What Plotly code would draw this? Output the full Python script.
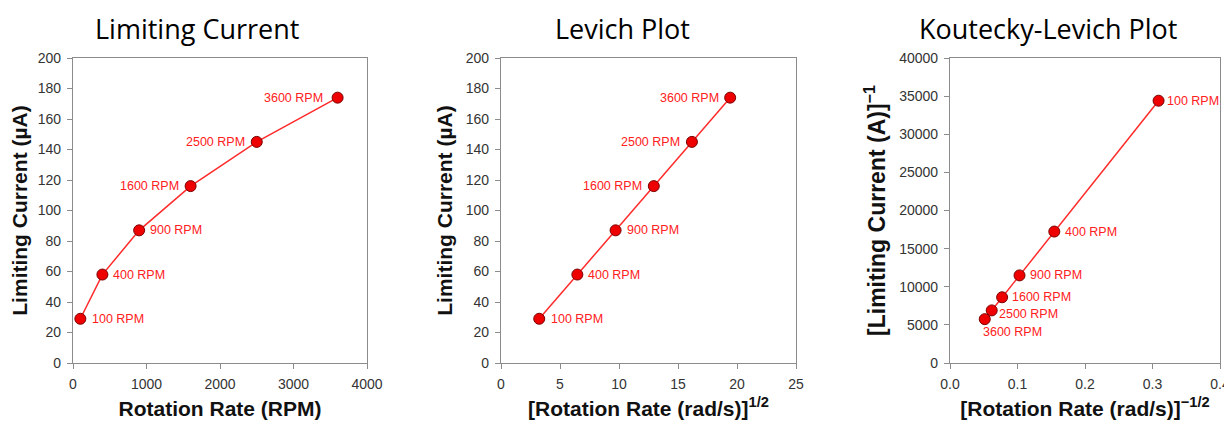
import plotly.graph_objects as go

# ---- data ----
rpm = [100, 400, 900, 1600, 2500, 3600]
labels = ["100 RPM", "400 RPM", "900 RPM", "1600 RPM", "2500 RPM", "3600 RPM"]
current_uA = [29, 58, 87, 116, 145, 174]
sqrt_omega = [3.24, 6.47, 9.71, 12.95, 16.18, 19.42]
inv_sqrt_omega = [0.309, 0.1545, 0.103, 0.0772, 0.0618, 0.0515]
inv_current = [34400, 17240, 11490, 8620, 6900, 5750]

titles = ["Limiting Current", "Levich Plot", "Koutecky-Levich Plot"]

# page is 1232x423; the html body adds an 8px margin, so the figure is smaller
OFF = 8
W, H = 1232 - OFF, 423 - OFF
RED = "#ff2a2a"
FONT = "Liberation Sans, Arial"

def px_x(a, b):
    return [(a - OFF) / W, (b - OFF) / W]

def px_y(top, bottom):
    return [1 - (bottom - OFF) / H, 1 - (top - OFF) / H]

fig = go.Figure()

panels = [
    dict(x=rpm, y=current_uA, xd=px_x(73, 367), xr=[0, 4000], xdt=1000, xfmt="",
         yr=[0, 200], ydt=20, xt="<b>Rotation Rate (RPM)</b>",
         yt="<b>Limiting Current (µA)</b>", tcx=197, ysz=21,
         lab=[("l", 10, 0), ("l", 9, 0), ("l", 9, 0), ("r", -10, 0), ("r", -10, 0), ("r", -13, 0)]),
    dict(x=sqrt_omega, y=current_uA, xd=px_x(501, 796), xr=[0, 25], xdt=5, xfmt="",
         yr=[0, 200], ydt=20, xt="<b>[Rotation Rate (rad/s)]<sup>1/2</sup></b>",
         yt="<b>Limiting Current (µA)</b>", tcx=622, ysz=21,
         lab=[("l", 10, 0), ("l", 9, 0), ("l", 9, 0), ("r", -10, 0), ("r", -10, 0), ("r", -9, 0)]),
    dict(x=inv_sqrt_omega, y=inv_current, xd=px_x(950, 1220), xr=[0, 0.4], xdt=0.1, xfmt=".1f",
         yr=[0, 40000], ydt=5000, xt="<b>[Rotation Rate (rad/s)]<sup>−1/2</sup></b>",
         yt="<b>[Limiting Current (A)]<sup>−1</sup></b>", tcx=1048, ysz=23,
         lab=[("l", 6, 0), ("l", 9, 0), ("l", 8, 0), ("l", 8, 0), ("l", 5, -4), ("l", -4, -13)]),
]

yd = px_y(58, 363)
annotations = []
for i, p in enumerate(panels):
    n = "" if i == 0 else str(i + 1)
    xa, ya = "x" + n, "y" + n
    fig.add_trace(go.Scatter(
        x=p["x"], y=p["y"], mode="lines+markers", xaxis=xa, yaxis=ya,
        line=dict(color=RED, width=1.5),
        marker=dict(size=11, color="#ee0000", line=dict(color="#7a0000", width=1)),
        showlegend=False, hoverinfo="skip"))
    common = dict(showline=True, linecolor="#8c8c8c", linewidth=1.2, mirror=True,
                  showgrid=False, zeroline=False, ticks="outside", ticklen=5,
                  tickcolor="#8c8c8c", automargin=False,
                  tickfont=dict(family=FONT, size=14, color="#333333"))
    fig.update_layout(**{
        "xaxis" + n: dict(domain=p["xd"], range=p["xr"], dtick=p["xdt"], tick0=0,
                          tickformat=p["xfmt"], anchor=ya, ticklabelstandoff=3,
                          title=dict(text=p["xt"], standoff=10,
                                     font=dict(family=FONT, size=21, color="#111111")),
                          **common),
        "yaxis" + n: dict(domain=yd, range=p["yr"], dtick=p["ydt"], tick0=0, anchor=xa,
                          tickformat="d", ticklabelstandoff=3,
                          title=dict(text=p["yt"], standoff=7,
                                     font=dict(family=FONT, size=p["ysz"], color="#111111")),
                          **common),
    })
    for (xv, yv, txt, (side, xs, ys)) in zip(p["x"], p["y"], labels, p["lab"]):
        annotations.append(dict(
            x=xv, y=yv, xref=xa, yref=ya, text=txt, showarrow=False,
            xanchor="left" if side == "l" else "right", yanchor="middle",
            xshift=xs, yshift=ys,
            font=dict(family=FONT, size=12.5, color="#ff2020")))
    annotations.append(dict(
        x=(p["tcx"] - OFF) / W, y=1, xref="paper", yref="paper",
        text=titles[i], showarrow=False, xanchor="center", yanchor="top",
        font=dict(family="Open Sans", size=27, color="#000000")))

fig.update_layout(
    width=W, height=H, margin=dict(l=0, r=0, t=0, b=0),
    paper_bgcolor="white", plot_bgcolor="white",
    annotations=annotations,
)

fig.write_html("out.html")
